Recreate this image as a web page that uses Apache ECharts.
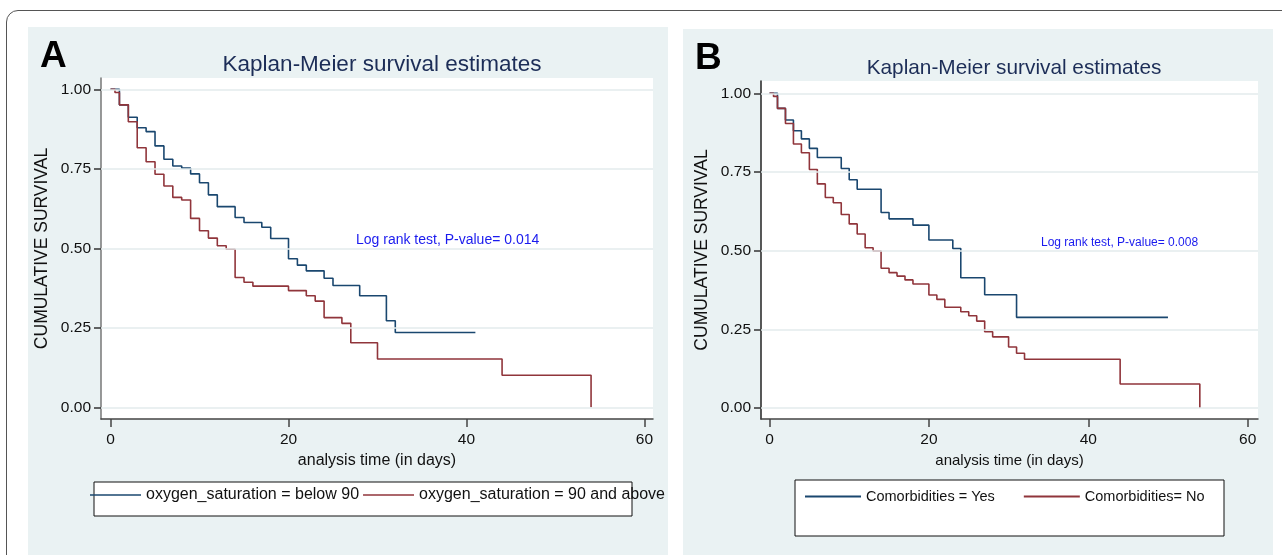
<!DOCTYPE html>
<html>
<head>
<meta charset="utf-8">
<title>Kaplan-Meier survival estimates</title>
<script src="https://cdn.jsdelivr.net/npm/echarts@6/dist/echarts.min.js"></script>
<style>
  body { margin: 0; background: #fff; overflow: hidden; }
  #frame { position: absolute; left: 6px; top: 10px; width: 1320px; height: 600px;
           border: 1.5px solid #555; border-radius: 12px; }
  .panel { position: absolute; background: #eaf2f3; }
  #chart { position: absolute; left: 0; top: 0; width: 1282px; height: 555px; }
</style>
</head>
<body>
<div id="frame"></div>
<div class="panel" style="left:28px; top:27px; width:640px; height:540px;"></div>
<div class="panel" style="left:683px; top:29px; width:590px; height:540px;"></div>
<div id="chart"></div>

<script type="text/javascript">
// panel A : oxygen saturation
var timesA1 = [0, 1, 2, 3, 4, 5, 6, 7, 8, 9, 10, 11, 12, 14, 15, 17, 18, 20, 21, 22, 24, 25, 28, 31, 32, 41];
var survA1  = [1.0, 0.951, 0.912, 0.879, 0.867, 0.822, 0.780, 0.759, 0.752, 0.734, 0.706, 0.668, 0.631, 0.597, 0.581, 0.566, 0.531, 0.467, 0.447, 0.429, 0.406, 0.383, 0.351, 0.272, 0.235, 0.235];
var timesA2 = [0, 0.5, 1, 2, 3, 4, 5, 6, 7, 8, 9, 10, 11, 12, 13, 14, 15, 16, 20, 22, 23, 24, 26, 27, 30, 44, 54];
var survA2  = [1.0, 0.99, 0.951, 0.898, 0.816, 0.772, 0.733, 0.696, 0.660, 0.652, 0.594, 0.555, 0.532, 0.508, 0.497, 0.408, 0.393, 0.381, 0.367, 0.351, 0.334, 0.282, 0.264, 0.203, 0.152, 0.101, 0.0];

// panel B : comorbidities
var timesB1 = [0, 1, 2, 3, 4, 5, 6, 9, 10, 11, 14, 15, 18, 20, 23, 24, 27, 31, 50];
var survB1  = [1.0, 0.952, 0.915, 0.881, 0.855, 0.825, 0.796, 0.761, 0.725, 0.695, 0.621, 0.601, 0.581, 0.534, 0.507, 0.414, 0.360, 0.288, 0.288];
var timesB2 = [0, 0.5, 1, 2, 3, 4, 5, 6, 7, 8, 9, 10, 11, 12, 13, 14, 15, 16, 17, 18, 20, 21, 22, 24, 25, 26, 27, 28, 30, 31, 32, 44, 54];
var survB2  = [1.0, 0.99, 0.952, 0.904, 0.839, 0.811, 0.758, 0.712, 0.669, 0.652, 0.615, 0.585, 0.553, 0.509, 0.499, 0.444, 0.430, 0.419, 0.407, 0.394, 0.359, 0.345, 0.320, 0.306, 0.293, 0.276, 0.242, 0.226, 0.194, 0.174, 0.155, 0.076, 0.0];

var namesA = ['oxygen_saturation = below 90', 'oxygen_saturation = 90 and above'];
var namesB = ['Comorbidities = Yes', 'Comorbidities= No'];
var xTicks = [0, 20, 40, 60];
var yTicks = [0, 0.25, 0.5, 0.75, 1];
var pvalA = 'Log rank test, P-value= 0.014';
var pvalB = 'Log rank test, P-value= 0.008';

var FONT = "'Liberation Sans', Arial, sans-serif";
var BLUE = '#1a476f', RED = '#90353b';

function pairs(t, s) {
  return t.map(function (v, i) { return [v, s[i]]; });
}

function xAxisCfg(idx, min, max, fs) {
  return {
    type: 'value', gridIndex: idx, min: min, max: max,
    name: 'analysis time (in days)', nameLocation: 'middle', nameGap: 34,
    nameTextStyle: { fontFamily: FONT, fontSize: fs, color: '#111' },
    axisLine: { show: true, onZero: false, lineStyle: { color: '#444', width: 1.5 } },
    axisTick: { show: true, length: 8, customValues: xTicks, lineStyle: { color: '#444', width: 1.5 } },
    axisLabel: { customValues: xTicks, margin: 13, fontFamily: FONT, fontSize: 15.5, color: '#111' },
    splitLine: { show: false }
  };
}

function yAxisCfg(idx, min, max, lineColor) {
  return {
    type: 'value', gridIndex: idx, min: min, max: max,
    name: 'CUMULATIVE SURVIVAL', nameLocation: 'middle', nameGap: 50, nameRotate: 90,
    nameTextStyle: { fontFamily: FONT, fontSize: 17.5, color: '#111' },
    axisLine: { show: true, onZero: false, lineStyle: { color: lineColor, width: 1.5 } },
    axisTick: { show: true, length: 7, customValues: yTicks, lineStyle: { color: '#333', width: 1.5 } },
    axisLabel: { customValues: yTicks, margin: 10, fontFamily: FONT, fontSize: 15.5, color: '#111',
                 formatter: function (v) { return v.toFixed(2); } },
    splitLine: { show: false }
  };
}

function gridLines() {
  return {
    silent: true, symbol: 'none', label: { show: false },
    lineStyle: { color: '#e3ebed', width: 1.5, type: 'solid' },
    data: yTicks.map(function (v) { return { yAxis: v }; })
  };
}

function kmSeries(name, idx, data, color, withGrid) {
  var s = {
    name: name, type: 'line', step: 'end', xAxisIndex: idx, yAxisIndex: idx,
    data: data, showSymbol: false, symbol: 'none', animation: false,
    lineStyle: { color: color, width: 1.6 }, itemStyle: { color: color }, z: 3
  };
  if (withGrid) s.markLine = gridLines();
  return s;
}

var chart = echarts.init(document.getElementById('chart'));
var option = {
  backgroundColor: 'transparent',
  animation: false,
  title: [
    { text: 'Kaplan-Meier survival estimates', left: 377, top: 48, textAlign: 'center',
      textStyle: { fontFamily: FONT, fontSize: 22.5, fontWeight: 'normal', color: '#1c2d57' } },
    { text: 'Kaplan-Meier survival estimates', left: 1009, top: 53, textAlign: 'center',
      textStyle: { fontFamily: FONT, fontSize: 20.8, fontWeight: 'normal', color: '#1c2d57' } }
  ],
  grid: [
    { left: 101, top: 78, width: 552, height: 341, show: true, backgroundColor: '#fff', borderWidth: 0 },
    { left: 761, top: 81, width: 497, height: 338, show: true, backgroundColor: '#fff', borderWidth: 0 }
  ],
  xAxis: [xAxisCfg(0, -1.07, 60.96, 16), xAxisCfg(1, -1.07, 61.3, 15)],
  yAxis: [yAxisCfg(0, -0.0368, 1.0355, '#777'), yAxisCfg(1, -0.035, 1.039, '#222')],
  legend: [
    { data: namesA.slice(), left: 90, top: 487, padding: 0, itemGap: 4, itemWidth: 51, itemHeight: 1.5,
      icon: 'rect', textStyle: { fontFamily: FONT, fontSize: 16, color: '#111' }, selectedMode: false },
    { data: namesB.slice(), left: 805, top: 489, padding: 0, itemGap: 29, itemWidth: 56, itemHeight: 2,
      icon: 'rect', textStyle: { fontFamily: FONT, fontSize: 14.5, color: '#111' }, selectedMode: false }
  ],
  graphic: [
    { type: 'rect', shape: { x: 94, y: 482, width: 538, height: 34 },
      style: { fill: '#fff', stroke: '#111', lineWidth: 1 }, z: 0 },
    { type: 'rect', shape: { x: 795, y: 480, width: 429, height: 56 },
      style: { fill: '#fff', stroke: '#111', lineWidth: 1 }, z: 0 },
    { type: 'text', left: 40, top: 38, z: 5,
      style: { text: 'A', fontFamily: FONT, fontSize: 37, fontWeight: 'bold', fill: '#000' } },
    { type: 'text', left: 695, top: 40, z: 5,
      style: { text: 'B', fontFamily: FONT, fontSize: 37, fontWeight: 'bold', fill: '#000' } },
    { type: 'text', left: 356, top: 233, z: 5,
      style: { text: pvalA, fontFamily: FONT, fontSize: 14, fill: '#1a1aee' } },
    { type: 'text', left: 1041, top: 237, z: 5,
      style: { text: pvalB, fontFamily: FONT, fontSize: 12, fill: '#1a1aee' } }
  ],
  series: [
    kmSeries(namesA[0], 0, pairs(timesA1, survA1), BLUE, true),
    kmSeries(namesA[1], 0, pairs(timesA2, survA2), RED, false),
    kmSeries(namesB[0], 1, pairs(timesB1, survB1), BLUE, true),
    kmSeries(namesB[1], 1, pairs(timesB2, survB2), RED, false)
  ]
};
chart.setOption(option);
</script>
</body>
</html>
